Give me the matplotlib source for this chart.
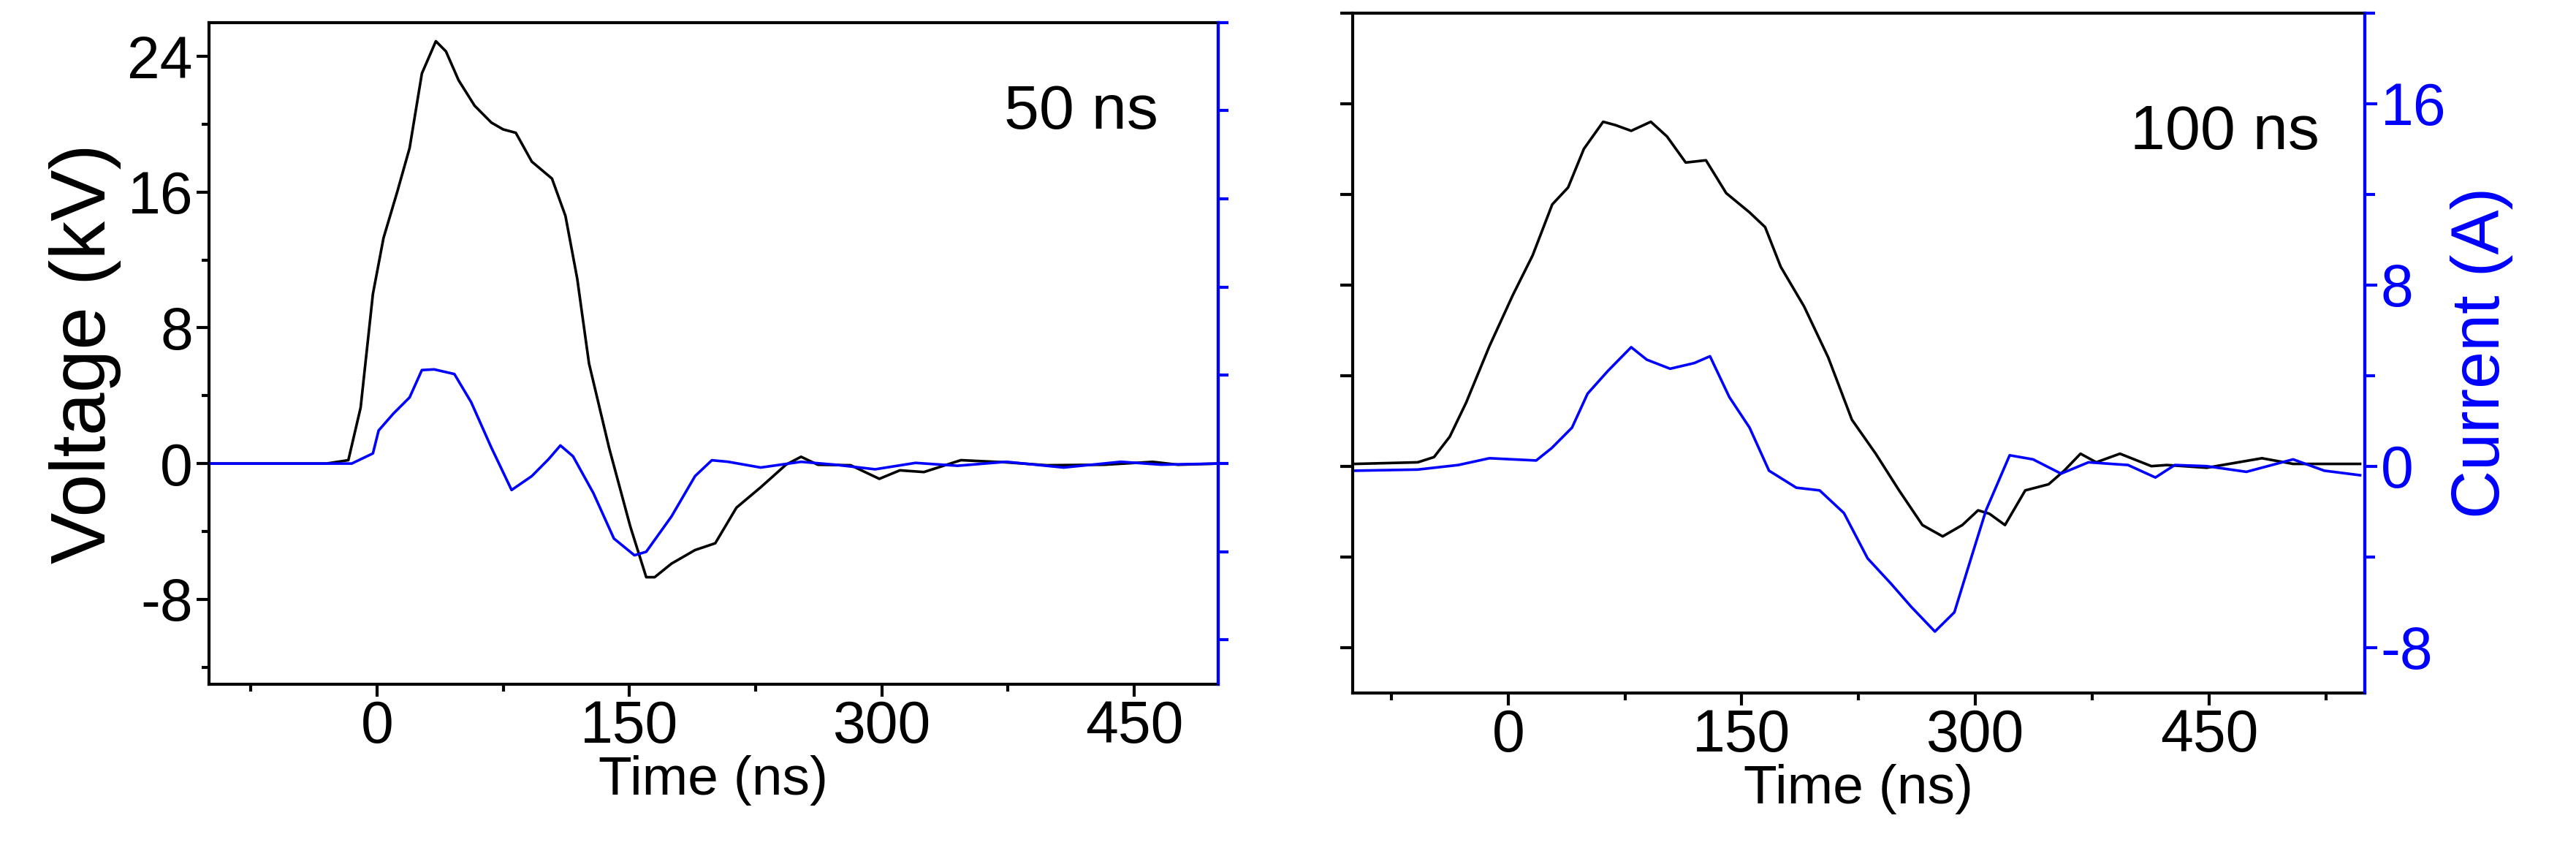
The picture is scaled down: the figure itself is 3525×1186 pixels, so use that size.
import matplotlib
matplotlib.use("Agg")
import matplotlib.pyplot as plt
from matplotlib.ticker import MultipleLocator

plt.rcParams["font.family"] = ["Liberation Sans", "DejaVu Sans"]
plt.rcParams["axes.unicode_minus"] = False

# 50 ns pulse: voltage (kV) and current (A)
t50_v = [-100, -30, -17, -9.7, -2.4, 3.9, 12, 19.4, 26.7, 35, 41, 48.5, 58, 68, 75, 82.5, 92, 104, 112,
         119, 126, 138, 150.5, 160, 165, 175, 189, 201, 213.6, 228, 243, 252, 262, 281.5, 298.5, 310.7,
         325, 347, 374, 398, 432, 461, 476, 500]
v50 = [0, 0, 0.2, 3.3, 10, 13.3, 16, 18.6, 23, 24.9, 24.3, 22.6, 21.1, 20.1, 19.7, 19.5, 17.8, 16.8, 14.6,
       10.9, 5.9, 0.9, -3.7, -6.7, -6.7, -5.9, -5.1, -4.7, -2.6, -1.4, -0.07, 0.4, -0.07, -0.1, -0.9, -0.4,
       -0.5, 0.2, 0.07, -0.1, -0.07, 0.1, -0.07, 0]
t50_i = [-100, -15, -2.4, 1, 9.7, 19.4, 26.7, 34, 46, 56, 68, 80, 92, 102, 109, 116.5, 128.6, 140.8, 153,
         160, 175, 189, 199, 208.7, 228, 252, 272, 296, 320, 345, 374, 408, 442, 466, 500]
i50 = [0, 0, 0.46, 1.5, 2.26, 3.0, 4.24, 4.27, 4.06, 2.78, 0.72, -1.2, -0.57, 0.2, 0.82, 0.33, -1.34, -3.4,
       -4.16, -4.0, -2.4, -0.57, 0.15, 0.08, -0.18, 0.08, -0.05, -0.26, 0.03, -0.1, 0.08, -0.18, 0.08, -0.05, 0]

# 100 ns pulse
t100_v = [-98, -58, -47.6, -37.5, -27, -12, 3, 15.7, 28.3, 38.5, 48.6, 61, 69, 79, 91.6, 102, 114, 127, 140,
          155, 165, 175, 190, 205.5, 220.7, 236, 251, 266, 279, 291.6, 301.7, 309, 319, 332, 347, 357,
          367.5, 377.6, 392.8, 413, 423, 448.5, 484, 504, 524, 547]
v100 = [0.1, 0.17, 0.4, 1.3, 2.8, 5.3, 7.55, 9.3, 11.55, 12.3, 14, 15.2, 15.05, 14.8, 15.2, 14.55, 13.4, 13.5,
        12.05, 11.2, 10.55, 8.8, 7.05, 4.8, 2.05, 0.55, -1.07, -2.6, -3.1, -2.6, -1.95, -2.1, -2.6, -1.07,
        -0.8, -0.2, 0.55, 0.17, 0.55, 0, 0.05, -0.07, 0.35, 0.1, 0.1, 0.1]
t100_i = [-98, -58, -32, -12, 18, 28, 41, 51, 64, 79, 89, 104, 119.5, 129.6, 142, 155, 167.5, 185, 200, 215.6,
          230.8, 246, 258.7, 274, 286.5, 296.6, 306.8, 322, 337, 355, 372.6, 398, 415.6, 428, 448.5, 474,
          504, 524, 547]
i100 = [-0.2, -0.15, 0.05, 0.35, 0.25, 0.8, 1.7, 3.2, 4.2, 5.25, 4.7, 4.3, 4.55, 4.85, 3.05, 1.7, -0.2, -0.95,
        -1.07, -2.07, -4.07, -5.2, -6.2, -7.3, -6.45, -4.2, -1.95, 0.48, 0.3, -0.33, 0.17, 0.05, -0.5, 0.05,
        0, -0.25, 0.3, -0.2, -0.4]

BLUE = "#0000FF"
LW = 2.6
FS = 58

fig = plt.figure(figsize=(35.25, 11.86), dpi=100)
ax1 = fig.add_axes([0.081, 0.211, 0.392, 0.763])
ax2 = fig.add_axes([0.525, 0.201, 0.393, 0.784])


def style(ax, xlim, xmaxlim):
    for s in ax.spines.values():
        s.set_linewidth(3)
    ax.set_xlim(xlim, xmaxlim)
    ax.xaxis.set_major_locator(MultipleLocator(150))
    ax.xaxis.set_minor_locator(MultipleLocator(75))
    ax.tick_params(axis="both", which="both", direction="out", width=3, labelsize=FS)
    ax.tick_params(which="major", length=12)
    ax.tick_params(which="minor", length=7)
    ax.set_xlabel("Time (ns)", fontsize=54, labelpad=0)


# left panel
ax1.plot(t50_v, v50, color="black", lw=LW)
ax1.set_ylim(-13, 26)
ax1.yaxis.set_major_locator(MultipleLocator(8))
ax1.yaxis.set_minor_locator(MultipleLocator(4))
style(ax1, -100, 500)
ax1.set_ylabel("Voltage (kV)", fontsize=76, labelpad=6)
ax1.text(0.94, 0.84, "50 ns", transform=ax1.transAxes, ha="right", fontsize=62)
ax1r = ax1.twinx()
ax1r.plot(t50_i, i50, color=BLUE, lw=LW)
ax1r.set_ylim(-10, 20)
ax1r.yaxis.set_major_locator(MultipleLocator(4))
ax1r.tick_params(axis="y", colors=BLUE, width=3, length=10, labelright=False)
ax1r.spines["right"].set_color(BLUE)
ax1r.spines["right"].set_linewidth(3)

# right panel
ax2.plot(t100_v, v100, color="black", lw=LW)
ax2.set_ylim(-10, 20)
ax2.yaxis.set_major_locator(MultipleLocator(4))
style(ax2, -100, 550)
ax2.tick_params(axis="y", labelleft=False)
ax2.text(0.955, 0.8, "100 ns", transform=ax2.transAxes, ha="right", fontsize=62)
ax2r = ax2.twinx()
ax2r.plot(t100_i, i100, color=BLUE, lw=LW)
ax2r.set_ylim(-10, 20)
ax2r.yaxis.set_major_locator(MultipleLocator(8))
ax2r.yaxis.set_minor_locator(MultipleLocator(4))
ax2r.tick_params(axis="y", which="both", colors=BLUE, width=3, labelsize=FS)
ax2r.tick_params(axis="y", which="major", length=12)
ax2r.tick_params(axis="y", which="minor", length=10)
ax2r.spines["right"].set_color(BLUE)
ax2r.spines["right"].set_linewidth(3)
ax2r.set_ylabel("Current (A)", fontsize=66, color=BLUE, labelpad=4)

fig.savefig("out.png", dpi=100)
